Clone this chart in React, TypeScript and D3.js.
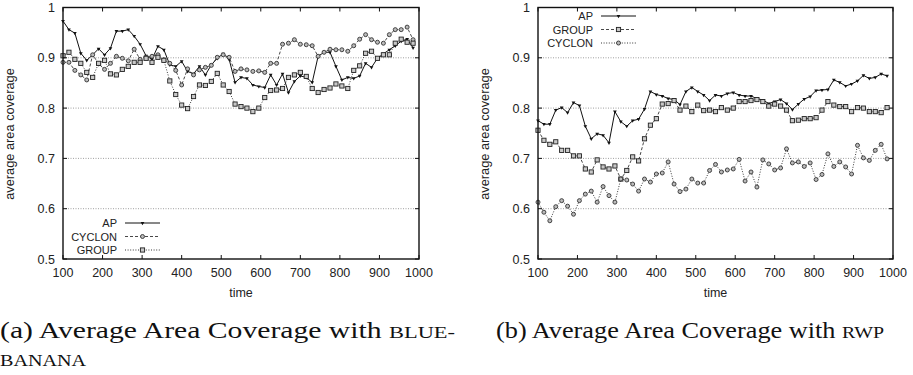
import React, { useEffect, useRef } from 'react';
import * as d3 from 'd3';

// sample times (one point every 15 time units)
const times = d3.range(100, 1000, 15);
const xTicks = [100, 200, 300, 400, 500, 600, 700, 800, 900, 1000];
const yTicks = [0.5, 0.6, 0.7, 0.8, 0.9, 1];
const gridLines = [0.6, 0.7, 0.8, 0.9];

// (a) blue-banana
const bananaAP = [
  0.973, 0.956, 0.949, 0.909, 0.895, 0.906, 0.918, 0.906, 0.919, 0.953,
  0.953, 0.956, 0.943, 0.927, 0.904, 0.897, 0.923, 0.916, 0.886, 0.883,
  0.893, 0.873, 0.868, 0.883, 0.866, 0.886, 0.899, 0.908, 0.897, 0.851,
  0.861, 0.859, 0.846, 0.843, 0.841, 0.866, 0.846, 0.868, 0.831, 0.853,
  0.864, 0.861, 0.851, 0.903, 0.911, 0.911, 0.883, 0.856, 0.861, 0.859,
  0.864, 0.889, 0.881, 0.899, 0.908, 0.916, 0.924, 0.933, 0.937, 0.92,
];
const bananaCyclon = [
  0.891, 0.891, 0.875, 0.866, 0.856, 0.906, 0.888, 0.877, 0.889, 0.903,
  0.899, 0.894, 0.917, 0.897, 0.901, 0.903, 0.906, 0.896, 0.889, 0.875,
  0.846, 0.878, 0.866, 0.876, 0.881, 0.885, 0.901, 0.906, 0.901, 0.873,
  0.878, 0.876, 0.873, 0.874, 0.871, 0.889, 0.889, 0.927, 0.929, 0.936,
  0.927, 0.926, 0.924, 0.903, 0.911, 0.917, 0.916, 0.916, 0.913, 0.924,
  0.937, 0.946, 0.936, 0.931, 0.929, 0.946, 0.956, 0.956, 0.961, 0.936,
];
const bananaGroup = [
  0.904, 0.911, 0.897, 0.889, 0.871, 0.861, 0.889, 0.895, 0.868, 0.866,
  0.877, 0.883, 0.891, 0.891, 0.899, 0.891, 0.901, 0.895, 0.854, 0.827,
  0.806, 0.799, 0.823, 0.846, 0.845, 0.853, 0.869, 0.846, 0.833, 0.808,
  0.803, 0.8, 0.793, 0.8, 0.821, 0.835, 0.836, 0.839, 0.861, 0.866,
  0.871, 0.863, 0.839, 0.831, 0.837, 0.84, 0.848, 0.844, 0.839, 0.875,
  0.884, 0.909, 0.913, 0.899, 0.906, 0.906, 0.929, 0.937, 0.931, 0.929,
];

// (b) rwp
const rwpAP = [
  0.775, 0.768, 0.768, 0.796, 0.801, 0.791, 0.811, 0.805, 0.764, 0.739,
  0.749, 0.746, 0.731, 0.793, 0.773, 0.764, 0.775, 0.778, 0.798, 0.833,
  0.827, 0.824, 0.819, 0.817, 0.807, 0.833, 0.841, 0.833, 0.826, 0.815,
  0.826, 0.824, 0.829, 0.831, 0.826, 0.824, 0.824, 0.819, 0.816, 0.809,
  0.813, 0.817, 0.809, 0.797, 0.808, 0.818, 0.823, 0.835, 0.836, 0.837,
  0.856, 0.851, 0.844, 0.848, 0.854, 0.865, 0.859, 0.861, 0.868, 0.864,
];
const rwpGroup = [
  0.756, 0.736, 0.728, 0.733, 0.716, 0.716, 0.705, 0.705, 0.679, 0.673,
  0.697, 0.683, 0.679, 0.685, 0.659, 0.676, 0.703, 0.695, 0.739, 0.766,
  0.779, 0.808, 0.809, 0.815, 0.796, 0.804, 0.793, 0.806, 0.795, 0.796,
  0.793, 0.801, 0.796, 0.8, 0.813, 0.813, 0.815, 0.817, 0.813, 0.804,
  0.808, 0.804, 0.796, 0.775, 0.776, 0.779, 0.779, 0.781, 0.796, 0.813,
  0.806, 0.803, 0.803, 0.793, 0.801, 0.8, 0.793, 0.793, 0.791, 0.801,
];
const rwpCyclon = [
  0.613, 0.593, 0.576, 0.604, 0.616, 0.605, 0.589, 0.616, 0.629, 0.635,
  0.613, 0.644, 0.626, 0.613, 0.659, 0.657, 0.649, 0.635, 0.659, 0.653,
  0.669, 0.671, 0.693, 0.649, 0.634, 0.639, 0.659, 0.651, 0.651, 0.676,
  0.688, 0.673, 0.677, 0.679, 0.698, 0.655, 0.673, 0.643, 0.697, 0.689,
  0.677, 0.681, 0.719, 0.691, 0.693, 0.684, 0.691, 0.658, 0.668, 0.709,
  0.684, 0.693, 0.683, 0.669, 0.726, 0.701, 0.696, 0.716, 0.728, 0.699,
];

const sans = "'Liberation Sans', Arial, sans-serif";
const serif = "'Liberation Serif', 'Times New Roman', serif";

const lineStyles = {
  solid: { dash: null, color: '#111', width: 1 },
  dashed: { dash: '3,2', color: '#333', width: 0.9 },
  dotted: { dash: '1,1.6', color: '#222', width: 0.9 },
};

const drawMarker = (g, kind, x, y) => {
  if (kind === 'tri') {
    g.append('path')
      .attr('d', d3.symbol(d3.symbolTriangle, 6)())
      .attr('transform', `translate(${x},${y}) rotate(180)`)
      .attr('fill', '#111');
  } else if (kind === 'circle') {
    g.append('circle')
      .attr('cx', x).attr('cy', y).attr('r', 2)
      .attr('fill', '#bbb').attr('stroke', '#333').attr('stroke-width', 0.9);
  } else {
    g.append('rect')
      .attr('x', x - 2.1).attr('y', y - 2.1).attr('width', 4.2).attr('height', 4.2)
      .attr('fill', '#c8c8c8').attr('stroke', '#222').attr('stroke-width', 0.9);
  }
};

const drawPanel = (svg, cfg) => {
  const x = d3.scaleLinear().domain([100, 1000]).range([cfg.left, cfg.right]);
  const y = d3.scaleLinear().domain([0.5, 1]).range([259, 7.5]);
  const g = svg.append('g');

  // dotted gridlines
  g.selectAll('.grid').data(gridLines).enter().append('line')
    .attr('x1', cfg.left).attr('x2', cfg.right)
    .attr('y1', (d) => y(d)).attr('y2', (d) => y(d))
    .attr('stroke', '#888').attr('stroke-width', 0.8).attr('stroke-dasharray', '1,1.5');

  // series
  cfg.series.forEach((s) => {
    const st = lineStyles[s.line];
    const line = d3.line<number>().x((d, i) => x(times[i])).y((d) => y(d));
    g.append('path').datum(s.values).attr('d', line)
      .attr('fill', 'none').attr('stroke', st.color).attr('stroke-width', st.width)
      .attr('stroke-dasharray', st.dash);
  });
  cfg.series.forEach((s) => {
    const mg = g.append('g');
    s.values.forEach((v, i) => drawMarker(mg, s.marker, x(times[i]), y(v)));
  });

  // frame
  g.append('rect')
    .attr('x', cfg.left).attr('y', y(1)).attr('width', cfg.right - cfg.left).attr('height', y(0.5) - y(1))
    .attr('fill', 'none').attr('stroke', '#111').attr('stroke-width', 1.4);

  // ticks
  xTicks.forEach((t) => {
    g.append('line').attr('x1', x(t)).attr('x2', x(t)).attr('y1', y(0.5)).attr('y2', y(0.5) - 4)
      .attr('stroke', '#111');
    g.append('line').attr('x1', x(t)).attr('x2', x(t)).attr('y1', y(1)).attr('y2', y(1) + 4)
      .attr('stroke', '#111');
    g.append('text').attr('x', x(t)).attr('y', 277).attr('text-anchor', 'middle')
      .attr('font-family', sans).attr('font-size', 12.5).attr('fill', '#222').text(t);
  });
  yTicks.forEach((t) => {
    g.append('line').attr('x1', cfg.left).attr('x2', cfg.left + 4).attr('y1', y(t)).attr('y2', y(t))
      .attr('stroke', '#111');
    g.append('line').attr('x1', cfg.right).attr('x2', cfg.right - 4).attr('y1', y(t)).attr('y2', y(t))
      .attr('stroke', '#111');
    g.append('text').attr('x', cfg.left - 8).attr('y', y(t) + 4.5).attr('text-anchor', 'end')
      .attr('font-family', sans).attr('font-size', 12.5).attr('fill', '#222').text(t);
  });

  // axis titles
  g.append('text').attr('x', (cfg.left + cfg.right) / 2).attr('y', 297).attr('text-anchor', 'middle')
    .attr('font-family', sans).attr('font-size', 12.5).attr('fill', '#222').text('time');
  g.append('text')
    .attr('transform', `translate(${cfg.left - 49},${134}) rotate(-90)`)
    .attr('text-anchor', 'middle').attr('font-family', sans).attr('font-size', 12.8).attr('fill', '#222')
    .text('average area coverage');

  // legend
  cfg.series.forEach((s, i) => {
    const ly = cfg.legend.y + i * 13.5;
    const st = lineStyles[s.line];
    g.append('text').attr('x', cfg.legend.x).attr('y', ly + 4).attr('text-anchor', 'end')
      .attr('font-family', sans).attr('font-size', 11).attr('fill', '#222').text(s.name);
    g.append('line').attr('x1', cfg.legend.x + 8).attr('x2', cfg.legend.x + 43).attr('y1', ly).attr('y2', ly)
      .attr('stroke', st.color).attr('stroke-width', st.width).attr('stroke-dasharray', st.dash);
    drawMarker(g, s.marker, cfg.legend.x + 25.5, ly);
  });
};

const App = () => {
  const ref = useRef<SVGSVGElement | null>(null);

  useEffect(() => {
    if (!ref.current) return;
    const svg = d3.select(ref.current);
    svg.selectAll('*').remove();

    drawPanel(svg, {
      left: 63,
      right: 419,
      legend: { x: 117, y: 223 },
      series: [
        { name: 'AP', values: bananaAP, line: 'solid', marker: 'tri' },
        { name: 'CYCLON', values: bananaCyclon, line: 'dashed', marker: 'circle' },
        { name: 'GROUP', values: bananaGroup, line: 'dotted', marker: 'square' },
      ],
    });
    drawPanel(svg, {
      left: 538,
      right: 893,
      legend: { x: 593, y: 16 },
      series: [
        { name: 'AP', values: rwpAP, line: 'solid', marker: 'tri' },
        { name: 'GROUP', values: rwpGroup, line: 'dashed', marker: 'square' },
        { name: 'CYCLON', values: rwpCyclon, line: 'dotted', marker: 'circle' },
      ],
    });

    // captions
    const capA = svg.append('text').attr('x', 0).attr('y', 338)
      .attr('font-family', serif).attr('font-size', 22.5).attr('fill', '#111')
      .attr('textLength', 455).attr('lengthAdjust', 'spacingAndGlyphs');
    capA.append('tspan').text('(a) Average Area Coverage with ');
    capA.append('tspan').attr('font-size', 17).text('BLUE-');
    svg.append('text').attr('x', 0).attr('y', 366)
      .attr('font-family', serif).attr('font-size', 17).attr('fill', '#111')
      .attr('textLength', 86).attr('lengthAdjust', 'spacingAndGlyphs').text('BANANA');

    const capB = svg.append('text').attr('x', 496).attr('y', 338)
      .attr('font-family', serif).attr('font-size', 22.5).attr('fill', '#111')
      .attr('textLength', 388).attr('lengthAdjust', 'spacingAndGlyphs');
    capB.append('tspan').text('(b) Average Area Coverage with ');
    capB.append('tspan').attr('font-size', 17).text('RWP');
  }, []);

  return (
    <svg
      ref={ref}
      width={913}
      height={375}
      style={{ position: 'absolute', left: 0, top: 0, background: '#fff' }}
    />
  );
};

export default App;
